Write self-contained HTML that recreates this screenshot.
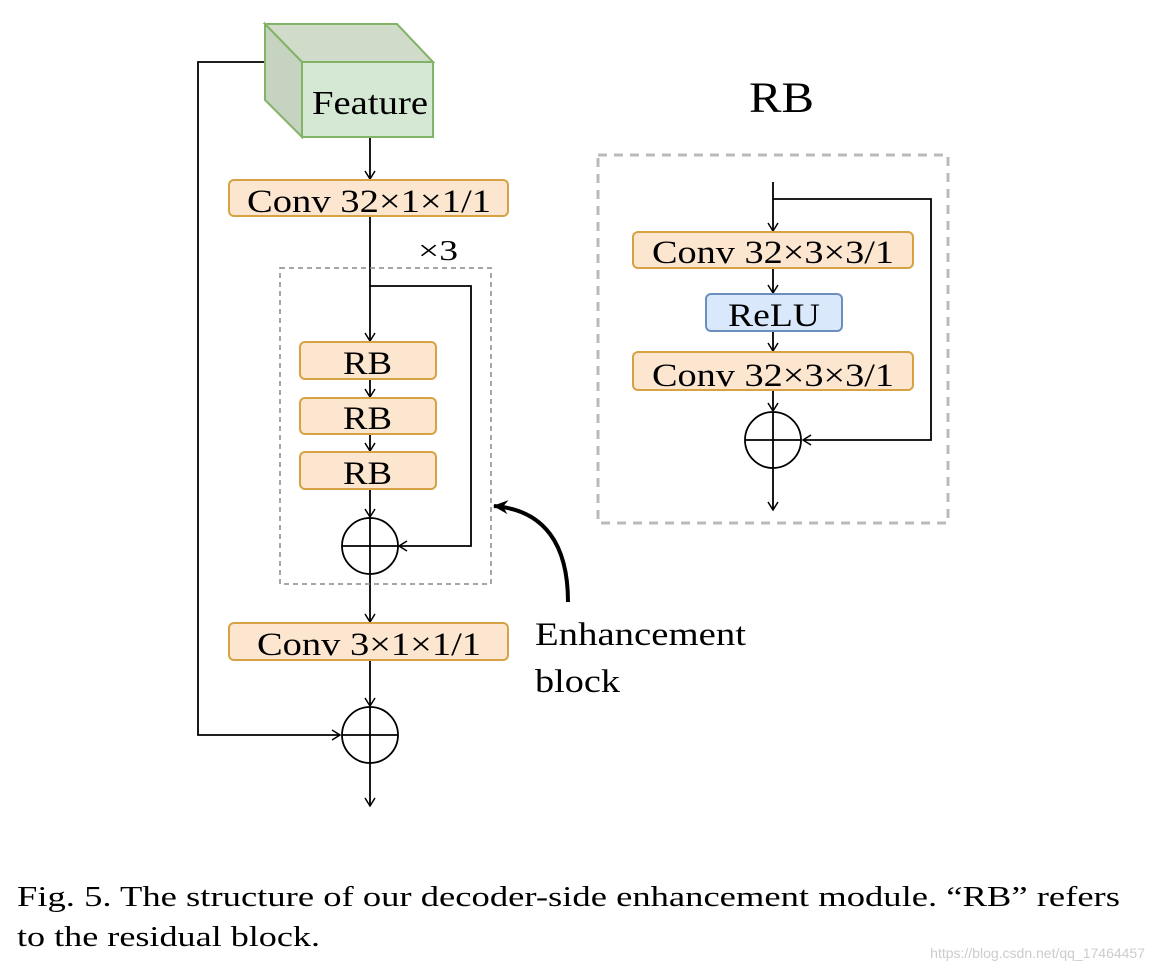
<!DOCTYPE html>
<html><head><meta charset="utf-8"><style>body{margin:0;background:#fff}svg{display:block}</style></head><body>
<svg width="1154" height="972" viewBox="0 0 1154 972" xmlns="http://www.w3.org/2000/svg" font-family="Liberation Serif, serif">
<defs>
<marker id="a" markerWidth="12" markerHeight="12" refX="10" refY="6" orient="auto" markerUnits="userSpaceOnUse"><path d="M2,1 L10,6 L2,11" fill="none" stroke="#000" stroke-width="1.5"/></marker>
<marker id="b" markerWidth="20" markerHeight="20" refX="16" refY="10" orient="auto" markerUnits="userSpaceOnUse"><path d="M2,3 L17,10 L2,17 L7,10 Z" fill="#000"/></marker>
</defs>
<g stroke="#000" stroke-width="1.8" fill="none">
<polyline points="265,62 198,62 198,735 340,735" marker-end="url(#a)"/>
<line x1="370" y1="137" x2="370" y2="179" marker-end="url(#a)"/>
<line x1="370" y1="216" x2="370" y2="341" marker-end="url(#a)"/>
<polyline points="370,286 471,286 471,546 399,546" marker-end="url(#a)"/>
<line x1="370" y1="379" x2="370" y2="397" marker-end="url(#a)"/>
<line x1="370" y1="434" x2="370" y2="451" marker-end="url(#a)"/>
<line x1="370" y1="489" x2="370" y2="517" marker-end="url(#a)"/>
<line x1="370" y1="574" x2="370" y2="622" marker-end="url(#a)"/>
<line x1="370" y1="660" x2="370" y2="706" marker-end="url(#a)"/>
<line x1="370" y1="763" x2="370" y2="806" marker-end="url(#a)"/>
<circle cx="370" cy="546" r="28"/><line x1="342" y1="546" x2="398" y2="546"/><line x1="370" y1="518" x2="370" y2="574"/>
<circle cx="370" cy="735" r="28"/><line x1="342" y1="735" x2="398" y2="735"/><line x1="370" y1="707" x2="370" y2="763"/>
<line x1="773" y1="182" x2="773" y2="231" marker-end="url(#a)"/>
<polyline points="773,199 931,199 931,440 803,440" marker-end="url(#a)"/>
<line x1="773" y1="268" x2="773" y2="293" marker-end="url(#a)"/>
<line x1="773" y1="331" x2="773" y2="351" marker-end="url(#a)"/>
<line x1="773" y1="390" x2="773" y2="411" marker-end="url(#a)"/>
<line x1="773" y1="468" x2="773" y2="510" marker-end="url(#a)"/>
<circle cx="773" cy="440" r="28"/><line x1="745" y1="440" x2="801" y2="440"/><line x1="773" y1="412" x2="773" y2="468"/>
</g>
<rect x="280" y="268" width="211" height="316" fill="none" stroke="#888" stroke-width="1.5" stroke-dasharray="5,4"/>
<rect x="598" y="155" width="350" height="368" fill="none" stroke="#bbb" stroke-width="3" stroke-dasharray="9,7"/>
<path d="M568,602 C568,545 545,510 494,506" fill="none" stroke="#000" stroke-width="4" marker-end="url(#b)"/>
<polygon points="265,24 397,24 433,62 302,62" fill="#d0dcc9" stroke="#82b366" stroke-width="2"/>
<polygon points="265,24 302,62 302,137 265,100" fill="#c6d3c0" stroke="#82b366" stroke-width="2"/>
<rect x="302" y="62" width="131" height="75" fill="#d5e8d4" stroke="#82b366" stroke-width="2"/>
<g lengthAdjust="spacingAndGlyphs">
<text x="312" y="114" font-size="34" textLength="116" lengthAdjust="spacingAndGlyphs">Feature</text>
</g>
<g fill="#fce6d0" stroke="#d6a244" stroke-width="2">
<rect x="229" y="180" width="279" height="36" rx="5"/>
<rect x="300" y="342" width="136" height="37" rx="5"/>
<rect x="300" y="398" width="136" height="36" rx="5"/>
<rect x="300" y="452" width="136" height="37" rx="5"/>
<rect x="229" y="623" width="279" height="37" rx="5"/>
<rect x="633" y="232" width="280" height="36" rx="5"/>
<rect x="633" y="352" width="280" height="38" rx="5"/>
</g>
<rect x="706" y="294" width="136" height="37" rx="5" fill="#dae8fc" stroke="#6c8ebf" stroke-width="2"/>
<g font-size="33" fill="#000">
<text x="247" y="212" textLength="244" lengthAdjust="spacingAndGlyphs">Conv 32×1×1/1</text>
<text x="343" y="374" textLength="49" lengthAdjust="spacingAndGlyphs">RB</text>
<text x="343" y="429" textLength="49" lengthAdjust="spacingAndGlyphs">RB</text>
<text x="343" y="484" textLength="49" lengthAdjust="spacingAndGlyphs">RB</text>
<text x="257" y="655" textLength="224" lengthAdjust="spacingAndGlyphs">Conv 3×1×1/1</text>
<text x="652" y="263" textLength="242" lengthAdjust="spacingAndGlyphs">Conv 32×3×3/1</text>
<text x="728" y="326" textLength="92" lengthAdjust="spacingAndGlyphs">ReLU</text>
<text x="652" y="386" textLength="242" lengthAdjust="spacingAndGlyphs">Conv 32×3×3/1</text>
<text x="418" y="260" font-size="29" textLength="40" lengthAdjust="spacingAndGlyphs">×3</text>
<text x="749" y="112" font-size="43" textLength="65" lengthAdjust="spacingAndGlyphs">RB</text>
<text x="535" y="645" textLength="211" lengthAdjust="spacingAndGlyphs">Enhancement</text>
<text x="535" y="692" textLength="85" lengthAdjust="spacingAndGlyphs">block</text>
</g>
<text x="17" y="906" font-size="29" textLength="1103" lengthAdjust="spacingAndGlyphs">Fig. 5.   The structure of our decoder-side enhancement module. “RB” refers</text>
<text x="17" y="946" font-size="29" textLength="303" lengthAdjust="spacingAndGlyphs">to the residual block.</text>
<text x="1145" y="958" font-size="14" fill="#ccc" text-anchor="end" font-family="Liberation Sans, sans-serif">https://blog.csdn.net/qq_17464457</text>
</svg>
</body></html>
